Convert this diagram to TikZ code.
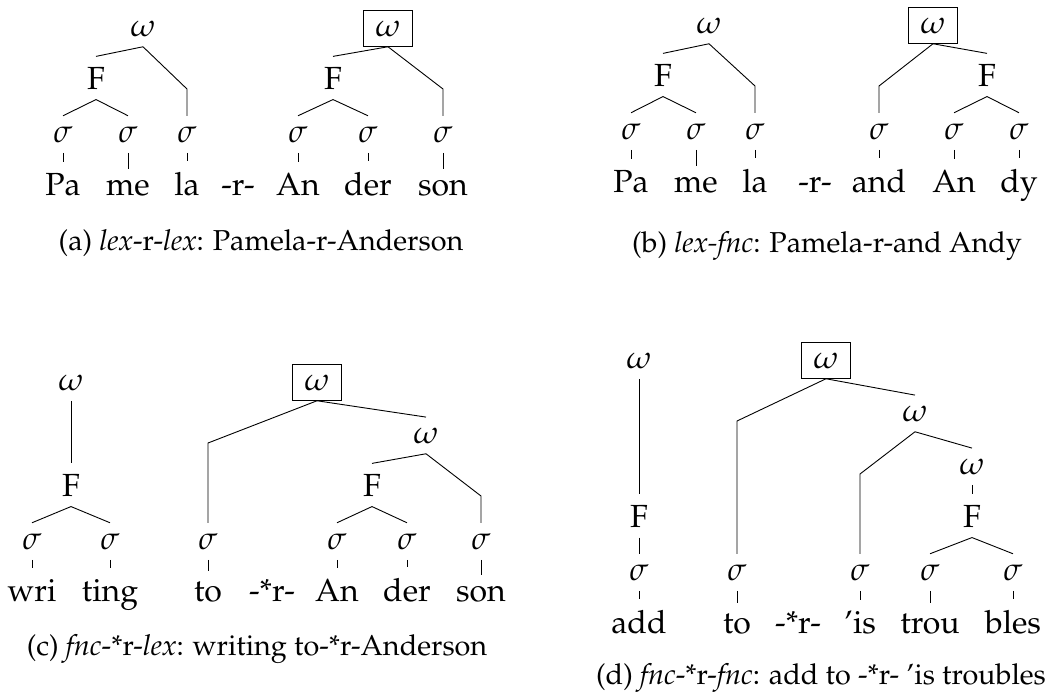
\documentclass[tikz,border=0pt]{standalone}
\usepackage[T1]{fontenc}
\usepackage{mathpazo}
\begin{document}
\begin{tikzpicture}[x=0.5pt,y=-0.5pt,line width=0.45pt,
	lab/.style={anchor=base,inner sep=5pt,font=\fontsize{16}{19}\selectfont},
	boxed/.style={lab,draw,inner xsep=6pt},
	subcap/.style={anchor=base,inner sep=0pt,font=\fontsize{14.4}{17}\selectfont}]
	\useasboundingbox (0,0) rectangle (1060,692);
	
	% (a) lex-r-lex
	\node[lab] (a-w1) at (143,36) {$\omega$};
	\node[lab] (a-F1) at (96,89) {F};
	\node[lab] (a-s1) at (63,142) {$\sigma$};
	\node[lab] (a-s2) at (128,142) {$\sigma$};
	\node[lab] (a-s3) at (187,142) {$\sigma$};
	\node[boxed] (a-w2) at (388,36) {$\omega$};
	\node[lab] (a-F2) at (333,89) {F};
	\node[lab] (a-s4) at (298,142) {$\sigma$};
	\node[lab] (a-s5) at (368,142) {$\sigma$};
	\node[lab] (a-s6) at (443,142) {$\sigma$};
	\node[lab] (a-t1) at (63,195) {Pa};
	\node[lab] (a-t2) at (128,195) {me};
	\node[lab] (a-t3) at (187,195) {la};
	\node[lab] (a-r) at (238,195) {-r-};
	\node[lab] (a-t4) at (298,195) {An};
	\node[lab] (a-t5) at (368,195) {der};
	\node[lab] (a-t6) at (443,195) {son};
	\coordinate (a-b1) at (187,89);
	\coordinate (a-b2) at (443,89);
	
	\draw (a-w1.south) -- (a-F1.north);
	\draw (a-w1.south) -- (a-b1) -- (a-s3.north);
	\draw (a-F1.south) -- (a-s1.north);
	\draw (a-F1.south) -- (a-s2.north);
	\draw (a-w2.south) -- (a-F2.north);
	\draw (a-w2.south) -- (a-b2) -- (a-s6.north);
	\draw (a-F2.south) -- (a-s4.north);
	\draw (a-F2.south) -- (a-s5.north);
	\draw (a-s1) -- (a-t1);
	\draw (a-s2) -- (a-t2);
	\draw (a-s3) -- (a-t3);
	\draw (a-s4) -- (a-t4);
	\draw (a-s5) -- (a-t5);
	\draw (a-s6) -- (a-t6);
	\node[subcap] (a-cap) at (261,250) {(a) \textit{lex}-r-\textit{lex}: Pamela-r-Anderson};
	
	% (b) lex-fnc
	\node[lab] (b-w1) at (709,33) {$\omega$};
	\node[lab] (b-F1) at (663,86) {F};
	\node[lab] (b-s1) at (631,139) {$\sigma$};
	\node[lab] (b-s2) at (696,139) {$\sigma$};
	\node[lab] (b-s3) at (755,139) {$\sigma$};
	\node[boxed] (b-w2) at (933,33) {$\omega$};
	\node[lab] (b-F2) at (987,86) {F};
	\node[lab] (b-s4) at (879,139) {$\sigma$};
	\node[lab] (b-s5) at (954,139) {$\sigma$};
	\node[lab] (b-s6) at (1019,139) {$\sigma$};
	\node[lab] (b-t1) at (631,192) {Pa};
	\node[lab] (b-t2) at (696,192) {me};
	\node[lab] (b-t3) at (755,192) {la};
	\node[lab] (b-r) at (815,192) {-r-};
	\node[lab] (b-t4) at (879,192) {and};
	\node[lab] (b-t5) at (954,192) {An};
	\node[lab] (b-t6) at (1019,192) {dy};
	\coordinate (b-b1) at (755,86);
	\coordinate (b-b2) at (879,86);
	
	\draw (b-w1.south) -- (b-F1.north);
	\draw (b-w1.south) -- (b-b1) -- (b-s3.north);
	\draw (b-F1.south) -- (b-s1.north);
	\draw (b-F1.south) -- (b-s2.north);
	\draw (b-w2.south) -- (b-b2) -- (b-s4.north);
	\draw (b-w2.south) -- (b-F2.north);
	\draw (b-F2.south) -- (b-s5.north);
	\draw (b-F2.south) -- (b-s6.north);
	\draw (b-s1) -- (b-t1);
	\draw (b-s2) -- (b-t2);
	\draw (b-s3) -- (b-t3);
	\draw (b-s4) -- (b-t4);
	\draw (b-s5) -- (b-t5);
	\draw (b-s6) -- (b-t6);
	\node[subcap] (b-cap) at (827,252) {(b) \textit{lex-fnc}: Pamela-r-and Andy};
	
	% (c) fnc-*r-lex
	\node[lab] (c-w1) at (71,390) {$\omega$};
	\node[lab] (c-F1) at (71,496) {F};
	\node[lab] (c-s1) at (32,549) {$\sigma$};
	\node[lab] (c-s2) at (110,549) {$\sigma$};
	\node[boxed] (c-w2) at (317,390) {$\omega$};
	\node[lab] (c-w3) at (426,443) {$\omega$};
	\node[lab] (c-F2) at (372,496) {F};
	\node[lab] (c-s3) at (208,549) {$\sigma$};
	\node[lab] (c-s4) at (337,549) {$\sigma$};
	\node[lab] (c-s5) at (407,549) {$\sigma$};
	\node[lab] (c-s6) at (481,549) {$\sigma$};
	\node[lab] (c-t1) at (32,601) {wri};
	\node[lab] (c-t2) at (110,601) {ting};
	\node[lab] (c-t3) at (208,601) {to};
	\node[lab] (c-r) at (272,601) {-*r-};
	\node[lab] (c-t4) at (337,601) {An};
	\node[lab] (c-t5) at (407,601) {der};
	\node[lab] (c-t6) at (481,601) {son};
	\coordinate (c-b1) at (208,443);
	\coordinate (c-b2) at (481,496);
	
	\draw (c-w1) -- (c-F1);
	\draw (c-F1.south) -- (c-s1.north);
	\draw (c-F1.south) -- (c-s2.north);
	\draw (c-w2.south) -- (c-b1) -- (c-s3.north);
	\draw (c-w2.south) -- (c-w3.north);
	\draw (c-w3.south) -- (c-F2.north);
	\draw (c-w3.south) -- (c-b2) -- (c-s6.north);
	\draw (c-F2.south) -- (c-s4.north);
	\draw (c-F2.south) -- (c-s5.north);
	\draw (c-s1) -- (c-t1);
	\draw (c-s2) -- (c-t2);
	\draw (c-s3) -- (c-t3);
	\draw (c-s4) -- (c-t4);
	\draw (c-s5) -- (c-t5);
	\draw (c-s6) -- (c-t6);
	\node[subcap] (c-cap) at (257,655) {(c) \textit{fnc}-*r-\textit{lex}: writing to-*r-Anderson};
	
	% (d) fnc-*r-fnc
	\node[lab] (d-w1) at (639,368) {$\omega$};
	\node[lab] (d-F1) at (639,527) {F};
	\node[lab] (d-s1) at (639,580) {$\sigma$};
	\node[boxed] (d-w2) at (826,368) {$\omega$};
	\node[lab] (d-w3) at (915,421) {$\omega$};
	\node[lab] (d-w4) at (972,474) {$\omega$};
	\node[lab] (d-F2) at (972,527) {F};
	\node[lab] (d-s2) at (737,580) {$\sigma$};
	\node[lab] (d-s3) at (860,580) {$\sigma$};
	\node[lab] (d-s4) at (930,580) {$\sigma$};
	\node[lab] (d-s5) at (1013,580) {$\sigma$};
	\node[lab] (d-t1) at (639,633) {add};
	\node[lab] (d-t2) at (737,633) {to};
	\node[lab] (d-r) at (798,633) {-*r-};
	\node[lab] (d-t3) at (860,633) {'is};
	\node[lab] (d-t4) at (930,633) {trou};
	\node[lab] (d-t5) at (1013,633) {bles};
	\coordinate (d-b1) at (737,421);
	\coordinate (d-b2) at (860,474);
	
	\draw (d-w1) -- (d-F1);
	\draw (d-F1) -- (d-s1);
	\draw (d-s1) -- (d-t1);
	\draw (d-w2.south) -- (d-b1) -- (d-s2.north);
	\draw (d-w2.south) -- (d-w3.north);
	\draw (d-w3.south) -- (d-b2) -- (d-s3.north);
	\draw (d-w3.south) -- (d-w4.north);
	\draw (d-w4) -- (d-F2);
	\draw (d-F2.south) -- (d-s4.north);
	\draw (d-F2.south) -- (d-s5.north);
	\draw (d-s2) -- (d-t2);
	\draw (d-s3) -- (d-t3);
	\draw (d-s4) -- (d-t4);
	\draw (d-s5) -- (d-t5);
	\node[subcap] (d-cap) at (821,684) {(d) \textit{fnc}-*r-\textit{fnc}: add to -*r- 'is troubles};
	
\end{tikzpicture}
\end{document}
